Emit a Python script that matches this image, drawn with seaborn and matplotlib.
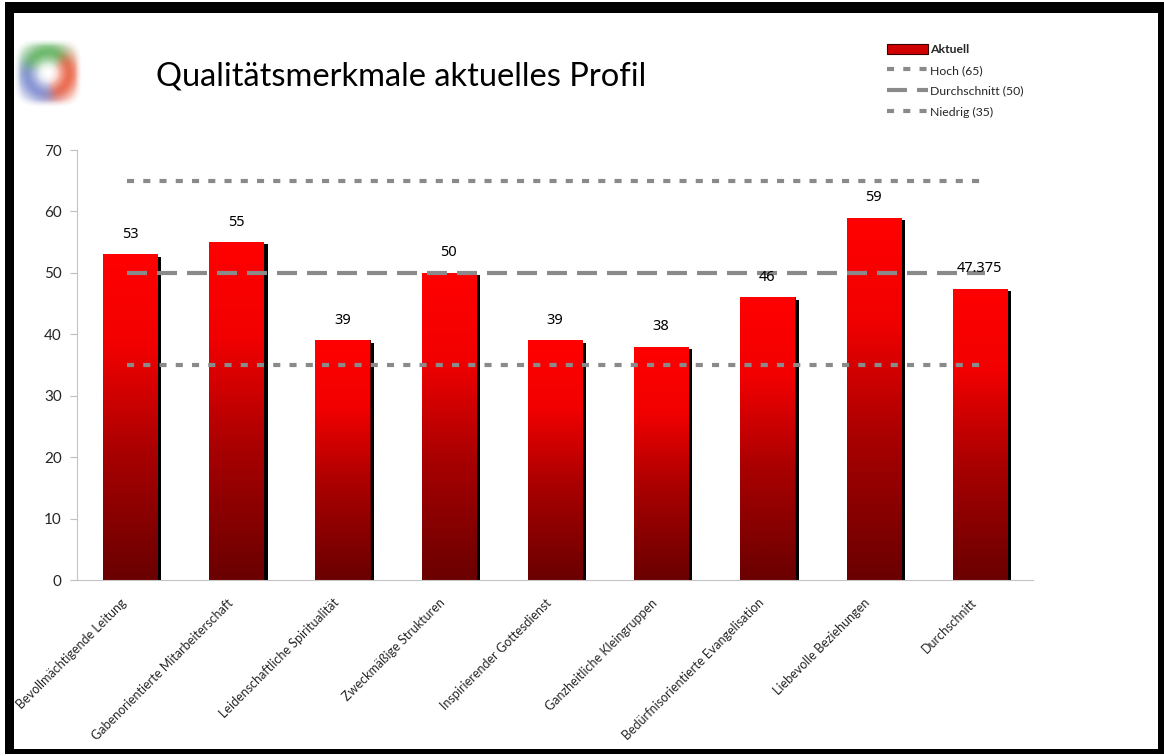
import numpy as np
import matplotlib
matplotlib.use("Agg")
import matplotlib.pyplot as plt
import matplotlib.patheffects as pe
import matplotlib.transforms as mtransforms
from matplotlib.colors import LinearSegmentedColormap
from matplotlib.lines import Line2D
from matplotlib.patches import Patch, Rectangle
import seaborn as sns

# ---- data -------------------------------------------------------------
categories = [
    "Bevollmächtigende Leitung",
    "Gabenorientierte Mitarbeiterschaft",
    "Leidenschaftliche Spiritualität",
    "Zweckmäßige Strukturen",
    "Inspirierender Gottesdienst",
    "Ganzheitliche Kleingruppen",
    "Bedürfnisorientierte Evangelisation",
    "Liebevolle Beziehungen",
    "Durchschnitt",
]
aktuell = [53, 55, 39, 50, 39, 38, 46, 59, 47.375]

ref_labels = ["Hoch (65)", "Durchschnitt (50)", "Niedrig (35)"]
ref_values = [65, 50, 35]

y_ticks = [0, 10, 20, 30, 40, 50, 60, 70]
title = "Qualitätsmerkmale aktuelles Profil"

# ---- figure -----------------------------------------------------------
sns.set_theme(style="white")
plt.rcParams["font.family"] = ["Lato", "DejaVu Sans"]

W, H = 1164, 756
fig = plt.figure(figsize=(W / 100, H / 100), dpi=100)
fig.patch.set_facecolor("white")

def fx(px):
    return px / W

def fy(py):
    return 1 - py / H

ax = fig.add_axes([fx(77), fy(580), fx(1033) - fx(77), fy(150) - fy(580)])

sns.barplot(x=categories, y=aktuell, color="red", saturation=1, width=0.51,
            errorbar=None, ax=ax, zorder=2)

# shadow + vertical red gradient on each bar
bar_cmap = LinearSegmentedColormap.from_list(
    "bar", [(0.0, "#6a0000"), (0.4, "#aa0000"), (0.72, "#f20000"), (1.0, "#ff0000")])
grad = np.linspace(0, 1, 256).reshape(-1, 1)
for p in ax.patches:
    p.set_edgecolor("#5a0000")
    p.set_linewidth(0.6)
    p.set_path_effects([pe.withSimplePatchShadow(offset=(3, -1.5), shadow_rgbFace="black",
                                                 alpha=1.0), pe.Normal()])
    x0, w, h = p.get_x(), p.get_width(), p.get_height()
    im = ax.imshow(grad, extent=(x0, x0 + w, 0, h), origin="lower", aspect="auto",
                   cmap=bar_cmap, zorder=2.5, interpolation="bilinear")
    im.set_clip_path(p)

# reference lines
ref_dashes = [(1.7, 2.2), (4.8, 2.4), (1.7, 2.2)]
ref_handles = []
for val, lab, dsh in zip(ref_values, ref_labels, ref_dashes):
    ln, = ax.plot([-0.03, 8.05], [val, val], color="#8a8a8a", lw=3, zorder=3,
                  solid_capstyle="butt", dash_capstyle="butt")
    ln.set_dashes(dsh)
    h = Line2D([0], [0], color="#8a8a8a", lw=3, dash_capstyle="butt")
    h.set_dashes(dsh)
    ref_handles.append(h)

# value labels
ax.bar_label(ax.containers[0], labels=[f"{v:g}" for v in aktuell], padding=9,
             fontsize=10.5, family=["Noto Sans", "DejaVu Sans"], color="black", zorder=4)

ax.set_xlim(-0.5, len(categories) - 0.5)
ax.set_ylim(0, 70)
ax.set_yticks(y_ticks)
ax.set_yticklabels([str(t) for t in y_ticks], fontsize=11)

ax.set_xticks(range(len(categories)))
ax.set_xticklabels(categories, rotation=45, ha="right", rotation_mode="anchor", fontsize=9)
ax.set_xticks(np.arange(-0.5, len(categories)), minor=True)
ax.tick_params(axis="x", which="major", length=0, pad=12)
ax.tick_params(axis="x", which="minor", length=5, color="#c0c0c0", width=0.8, direction="out")
ax.tick_params(axis="y", length=5, color="#c0c0c0", width=0.8, direction="out", pad=6,
               left=True)
# nudge the slanted category labels a little to the left of each bar centre
shift = mtransforms.ScaledTranslation(-7 / 72, 0, fig.dpi_scale_trans)
for lbl in ax.get_xticklabels():
    lbl.set_transform(lbl.get_transform() + shift)
ax.set_xlabel("")
ax.set_ylabel("")
for s in ["top", "right"]:
    ax.spines[s].set_visible(False)
for s in ["left", "bottom"]:
    ax.spines[s].set_color("#c4c4c4")
    ax.spines[s].set_linewidth(0.8)

# title
fig.text(fx(156), fy(76), title, fontsize=23.5, color="black", va="center", ha="left")

# legend
handles = [Patch(facecolor="#d00000", edgecolor="#3a0000", linewidth=0.8)] + ref_handles
labels = ["Aktuell"] + ref_labels
leg = fig.legend(handles, labels, loc="upper left", bbox_to_anchor=(fx(882), fy(39)),
                 frameon=False, fontsize=8.8, handlelength=3.4, handleheight=0.85,
                 handletextpad=0.15, labelspacing=0.8, borderaxespad=0)
leg.get_texts()[0].set_fontweight("bold")

# logo
lax = fig.add_axes([fx(14), fy(108), fx(82) - fx(14), fy(38) - fy(108)])
n = 140
yy, xx = np.mgrid[1:-1:n * 1j, -1:1:n * 1j]
rr = np.hypot(xx, yy)
th = np.arctan2(yy, xx)
cols = np.array([[95, 180, 95], [235, 95, 65], [125, 140, 210]]) / 255.0
centers = np.radians([105, -15, 215])
wts = np.stack([np.exp(3.5 * np.cos(th - c)) for c in centers], axis=-1)
wts /= wts.sum(axis=-1, keepdims=True)
mix = wts @ cols
ring = np.exp(-((rr - 0.62) / 0.28) ** 2)
f = np.clip(0.25 + 0.75 * ring, 0, 1) * np.clip((rr - 0.05) / 0.3, 0, 1)
f = f[..., None]
rgb = 1 - f * (1 - mix)
sq = (np.abs(xx) ** 4 + np.abs(yy) ** 4) ** 0.25
alpha = np.clip((1.0 - sq) / 0.2, 0, 1) * 0.9
logo = np.dstack([rgb, alpha])
lax.imshow(logo, interpolation="bilinear")
lax.axis("off")

# black frame around the page
frame = [(5, 2, 1164 - 5, 11), (5, 2, 9, 754 - 2), (1158, 2, 6, 754 - 2), (5, 749, 1164 - 5, 5)]
for x, y, w, h in frame:
    fig.patches.append(Rectangle((fx(x), fy(y + h)), w / W, h / H, transform=fig.transFigure,
                                 facecolor="black", edgecolor="none", zorder=10))

fig.savefig("out.png", dpi=100, facecolor="white")
